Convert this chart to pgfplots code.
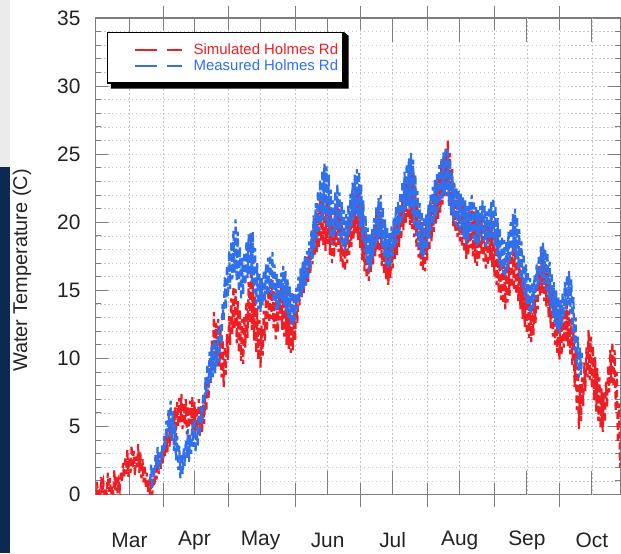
\documentclass[border=0pt]{standalone}
\usepackage{pgfplots}
\pgfplotsset{compat=1.18}
\usepackage{fontspec}
\setmainfont{Liberation Sans}
\definecolor{simred}{RGB}{238,30,36}
\definecolor{measblue}{RGB}{48,112,236}
\definecolor{navy}{RGB}{10,42,82}
\definecolor{stripgray}{RGB}{235,235,235}
\definecolor{framegray}{RGB}{125,125,125}
\definecolor{labelgray}{RGB}{35,35,35}
\definecolor{gridgray}{RGB}{200,200,200}

\begin{document}
\begin{tikzpicture}
% page background and side band
\fill[white] (0bp,0bp) rectangle (621bp,553bp);
\fill[stripgray] (0bp,386bp) rectangle (10bp,553bp);
\fill[navy] (0bp,0bp) rectangle (10bp,386bp);
\begin{axis}[
  at={(96bp,58bp)}, anchor=south west,
  scale only axis, width=525bp, height=477bp,
  xmin=0, xmax=242.2, ymin=0, ymax=35,
  axis line style={framegray, line width=1.1bp},
  every tick/.style={framegray, line width=1.0bp},
  xtick={31,61,92,122,153,184,214}, xticklabels={},
  xtick align=center,
  x tick style={/pgfplots/major tick length=24bp},
  extra x ticks={15.5,45.5,76,107,137,168,199,229},
  extra x tick labels={Mar,Apr,May,Jun,Jul,Aug,Sep,Oct},
  extra x tick style={/pgfplots/major tick length=6bp, tick align=inside, grid=major},
  ytick={0,5,...,35}, minor y tick num=4,
  ytick align=inside,
  y tick style={/pgfplots/major tick length=12bp, /pgfplots/minor tick length=5bp},
  xmajorgrids, ymajorgrids, yminorgrids,
  grid style={gridgray, line width=0.7bp, dash pattern=on 1.6bp off 2.4bp},
  /pgf/number format/assume math mode=true,
  ticklabel style={font=\fontsize{21}{25}\selectfont, text=labelgray},
  xticklabel style={anchor=center, yshift=-46bp},
  yticklabel style={anchor=east, xshift=-12bp},
  ylabel={Water Temperature (C)},
  ylabel style={at={(axis description cs:-0.141,0.47)}, anchor=center, rotate=0,
    font=\fontsize{20}{24}\selectfont, text=labelgray},
  legend style={name=keybox, at={(axis description cs:0.021,0.971)}, anchor=north west,
    draw=black, line width=1.3bp, fill=white,
    font=\fontsize{15}{17}\selectfont, inner xsep=3bp, inner ysep=9bp,
    row sep=0bp, nodes={inner sep=2bp},
    /tikz/every odd column/.append style={column sep=9bp}},
  legend cell align=left,
  legend image code/.code={\path (0bp,0bp);
    \draw[#1, solid] (23bp,0bp) -- (45bp,0bp);
    \draw[#1, solid] (55bp,0bp) -- (70bp,0bp);},
  clip=true,
]
% simulated water temperature, two readings per day (night low, afternoon high)
\addplot[simred, line width=2.2bp, dash pattern=on 7bp off 4bp] coordinates {
(0,0.0)(0.5,0.9)(1,0.0)(1.5,0.5)(2,0.0)(2.5,1.3)(3,0.1)(3.5,0.8)(4,0.0)(4.5,0.4)
(5,0.0)(5.5,1.6)(6,0.2)(6.5,1.2)(7,0.0)(7.5,0.6)(8,0.0)(8.5,1.8)(9,0.3)(9.5,1.4)
(10,0.1)(10.5,0.9)(11,0.4)(11.5,1.7)(12,0.9)(12.5,2.3)(13,1.2)(13.5,2.8)(14,1.5)(14.5,3.3)
(15,1.3)(15.5,2.7)(16,1.6)(16.5,3.6)(17,1.9)(17.5,3.2)(18,1.4)(18.5,2.8)(19,2.0)(19.5,3.7)
(20,1.6)(20.5,3.1)(21,1.2)(21.5,2.6)(22,0.9)(22.5,2.2)(23,0.5)(23.5,1.6)(24,0.2)(24.5,1.1)
(25,0.0)(25.5,0.7)(26,0.0)(26.5,0.9)(27,0.6)(27.5,1.9)(28,1.1)(28.5,2.5)(29,1.5)(29.5,3.0)
(30,1.9)(30.5,3.3)(31,2.3)(31.5,3.8)(32,2.8)(32.5,4.3)(33,3.1)(33.5,4.9)(34,3.5)(34.5,5.6)
(35,3.9)(35.5,6.1)(36,4.6)(36.5,6.4)(37,4.2)(37.5,6.8)(38,5.0)(38.5,7.1)(39,5.3)(39.5,7.4)
(40,4.8)(40.5,6.7)(41,5.1)(41.5,7.0)(42,4.4)(42.5,6.5)(43,4.9)(43.5,6.9)(44,5.2)(44.5,7.2)
(45,4.7)(45.5,6.8)(46,4.5)(46.5,6.4)(47,4.9)(47.5,7.0)(48,4.3)(48.5,6.2)(49,4.6)(49.5,6.6)
(50,5.2)(50.5,7.5)(51,6.1)(51.5,8.6)(52,7.0)(52.5,9.8)(53,8.2)(53.5,11.3)(54,9.5)(54.5,13.4)
(55,9.8)(55.5,12.6)(56,10.3)(56.5,12.9)(57,9.4)(57.5,12.1)(58,8.6)(58.5,11.4)(59,7.9)(59.5,10.9)
(60,8.8)(60.5,11.8)(61,9.9)(61.5,13.1)(62,11.0)(62.5,14.4)(63,11.8)(63.5,15.3)(64,12.2)(64.5,15.1)
(65,11.1)(65.5,14.2)(66,10.4)(66.5,13.6)(67,9.8)(67.5,12.9)(68,9.6)(68.5,13.1)(69,10.8)(69.5,14.2)
(70,11.5)(70.5,15.6)(71,12.6)(71.5,16.2)(72,12.1)(72.5,15.8)(73,11.3)(73.5,14.6)(74,10.4)(74.5,13.7)
(75,9.9)(75.5,12.8)(76,9.3)(76.5,12.4)(77,10.2)(77.5,13.5)(78,11.3)(78.5,14.4)(79,12.0)(79.5,15.1)
(80,12.6)(80.5,15.4)(81,12.9)(81.5,15.8)(82,12.2)(82.5,15.0)(83,11.4)(83.5,14.3)(84,11.9)(84.5,14.9)
(85,12.8)(85.5,15.6)(86,12.1)(86.5,15.2)(87,11.6)(87.5,14.6)(88,11.0)(88.5,13.9)(89,10.7)(89.5,13.5)
(90,10.4)(90.5,13.2)(91,10.6)(91.5,13.7)(92,11.3)(92.5,14.4)(93,12.6)(93.5,15.3)(94,13.9)(94.5,16.2)
(95,14.5)(95.5,16.9)(96,14.8)(96.5,17.2)(97,15.3)(97.5,17.6)(98,15.6)(98.5,18.1)(99,16.2)(99.5,18.8)
(100,16.9)(100.5,19.8)(101,17.5)(101.5,20.6)(102,17.8)(102.5,21.1)(103,18.1)(103.5,21.6)(104,18.6)(104.5,22.1)
(105,18.3)(105.5,22.6)(106,17.9)(106.5,21.8)(107,18.4)(107.5,21.4)(108,17.6)(108.5,20.8)(109,17.0)(109.5,20.2)
(110,17.4)(110.5,20.9)(111,18.2)(111.5,21.6)(112,17.8)(112.5,21.0)(113,17.1)(113.5,20.4)(114,16.6)(114.5,19.7)
(115,16.4)(115.5,19.3)(116,17.0)(116.5,20.1)(117,17.6)(117.5,20.7)(118,18.2)(118.5,21.5)(119,18.8)(119.5,22.0)
(120,19.2)(120.5,22.6)(121,18.7)(121.5,22.2)(122,18.1)(122.5,21.3)(123,17.2)(123.5,20.4)(124,16.4)(124.5,19.5)
(125,15.9)(125.5,18.8)(126,15.7)(126.5,18.6)(127,16.3)(127.5,19.2)(128,16.9)(128.5,19.8)(129,17.5)(129.5,20.6)
(130,17.9)(130.5,21.1)(131,17.4)(131.5,20.8)(132,16.8)(132.5,19.9)(133,16.2)(133.5,19.1)(134,15.8)(134.5,18.6)
(135,15.4)(135.5,18.3)(136,15.9)(136.5,18.9)(137,16.6)(137.5,19.7)(138,17.3)(138.5,20.3)(139,17.6)(139.5,20.5)
(140,18.2)(140.5,21.0)(141,18.7)(141.5,21.8)(142,19.4)(142.5,22.6)(143,19.9)(143.5,23.3)(144,20.3)(144.5,23.8)
(145,19.8)(145.5,24.2)(146,19.5)(146.5,23.6)(147,18.9)(147.5,22.7)(148,18.1)(148.5,21.6)(149,17.4)(149.5,20.7)
(150,16.8)(150.5,20.0)(151,16.5)(151.5,19.6)(152,16.4)(152.5,19.9)(153,17.2)(153.5,20.7)(154,17.9)(154.5,21.4)
(155,18.6)(155.5,22.0)(156,19.3)(156.5,22.6)(157,19.8)(157.5,23.2)(158,20.2)(158.5,23.6)(159,20.7)(159.5,24.1)
(160,21.3)(160.5,24.8)(161,21.9)(161.5,25.4)(162,22.4)(162.5,26.0)(163,21.6)(163.5,25.1)(164,20.5)(164.5,23.9)
(165,19.7)(165.5,22.8)(166,19.3)(166.5,22.2)(167,18.9)(167.5,21.9)(168,18.6)(168.5,21.5)(169,18.2)(169.5,21.2)
(170,17.8)(170.5,20.9)(171,17.3)(171.5,20.5)(172,17.6)(172.5,20.9)(173,18.1)(173.5,21.4)(174,17.5)(174.5,20.8)
(175,17.0)(175.5,20.3)(176,16.8)(176.5,20.0)(177,17.2)(177.5,20.4)(178,17.7)(178.5,20.7)(179,17.1)(179.5,20.1)
(180,16.6)(180.5,19.7)(181,16.8)(181.5,20.1)(182,17.2)(182.5,20.6)(183,16.7)(183.5,20.2)(184,16.0)(184.5,19.4)
(185,15.4)(185.5,18.6)(186,14.8)(186.5,17.9)(187,14.3)(187.5,17.2)(188,14.0)(188.5,16.9)(189,13.6)(189.5,16.6)
(190,14.1)(190.5,17.1)(191,14.6)(191.5,17.6)(192,15.2)(192.5,18.3)(193,15.0)(193.5,18.5)(194,14.7)(194.5,18.0)
(195,14.2)(195.5,17.3)(196,13.6)(196.5,16.5)(197,12.9)(197.5,15.8)(198,12.3)(198.5,15.2)(199,11.8)(199.5,14.7)
(200,11.5)(200.5,14.1)(201,11.2)(201.5,13.8)(202,11.7)(202.5,14.6)(203,12.6)(203.5,15.6)(204,13.6)(204.5,16.8)
(205,14.6)(205.5,18.2)(206,14.8)(206.5,17.6)(207,14.2)(207.5,16.9)(208,13.8)(208.5,16.8)(209,13.0)(209.5,15.9)
(210,12.2)(210.5,15.2)(211,11.6)(211.5,14.5)(212,11.0)(212.5,13.9)(213,10.4)(213.5,13.3)(214,9.9)(214.5,12.8)
(215,10.2)(215.5,13.1)(216,10.8)(216.5,13.6)(217,11.2)(217.5,14.0)(218,10.9)(218.5,13.5)(219,10.3)(219.5,12.9)
(220,9.5)(220.5,12.1)(221,7.9)(221.5,10.8)(222,6.2)(222.5,9.4)(223,4.8)(223.5,8.1)(224,5.4)(224.5,8.6)
(225,6.5)(225.5,9.7)(226,7.6)(226.5,10.8)(227,8.6)(227.5,12.1)(228,8.4)(228.5,11.6)(229,7.8)(229.5,10.9)
(230,6.9)(230.5,10.1)(231,6.1)(231.5,9.3)(232,5.4)(232.5,8.6)(233,4.9)(233.5,7.8)(234,4.6)(234.5,7.5)
(235,5.3)(235.5,8.3)(236,6.4)(236.5,9.5)(237,7.5)(237.5,10.6)(238,8.2)(238.5,11.2)(239,7.9)(239.5,10.6)
(240,6.1)(240.5,9.0)(241,3.8)(241.5,6.7)(242,2.0)(242.5,4.5)
};
\addlegendentry{\textcolor{simred}{Simulated Holmes Rd}}
% measured water temperature, same sampling
\addplot[measblue, line width=2.2bp, dash pattern=on 7bp off 4bp] coordinates {
(25,1.0)(25.5,2.2)(26,0.4)(26.5,2.0)(27,1.3)(27.5,2.9)(28,2.0)(28.5,3.5)(29,1.8)(29.5,3.1)
(30,2.2)(30.5,3.6)(31,2.6)(31.5,4.3)(32,3.3)(32.5,5.4)(33,4.1)(33.5,6.2)(34,4.6)(34.5,6.9)
(35,4.0)(35.5,6.1)(36,3.2)(36.5,5.2)(37,2.5)(37.5,4.3)(38,1.8)(38.5,3.6)(39,1.2)(39.5,3.0)
(40,1.5)(40.5,3.4)(41,2.1)(41.5,4.0)(42,2.7)(42.5,4.8)(43,2.4)(43.5,4.4)(44,3.0)(44.5,5.2)
(45,3.5)(45.5,5.6)(46,3.1)(46.5,5.0)(47,3.6)(47.5,5.9)(48,4.3)(48.5,6.5)(49,5.2)(49.5,7.4)
(50,6.3)(50.5,8.6)(51,7.2)(51.5,9.6)(52,7.8)(52.5,10.5)(53,8.3)(53.5,11.0)(54,8.6)(54.5,11.4)
(55,8.9)(55.5,11.2)(56,9.4)(56.5,12.1)(57,9.8)(57.5,12.6)(58,11.0)(58.5,14.0)(59,12.8)(59.5,16.0)
(60,13.6)(60.5,16.8)(61,14.5)(61.5,17.9)(62,15.1)(62.5,18.6)(63,15.8)(63.5,19.4)(64,16.3)(64.5,20.2)
(65,15.7)(65.5,19.3)(66,14.9)(66.5,18.2)(67,14.3)(67.5,17.4)(68,14.7)(68.5,17.8)(69,15.4)(69.5,18.6)
(70,15.9)(70.5,19.1)(71,16.1)(71.5,19.2)(72,15.6)(72.5,19.3)(73,14.8)(73.5,18.1)(74,14.0)(74.5,17.0)
(75,13.6)(75.5,16.2)(76,13.4)(76.5,15.9)(77,13.9)(77.5,16.5)(78,14.2)(78.5,16.9)(79,14.6)(79.5,17.4)
(80,14.9)(80.5,17.6)(81,14.7)(81.5,17.8)(82,14.1)(82.5,16.9)(83,13.6)(83.5,16.2)(84,13.5)(84.5,15.9)
(85,13.9)(85.5,16.3)(86,14.2)(86.5,16.8)(87,13.8)(87.5,16.4)(88,13.3)(88.5,15.8)(89,12.9)(89.5,15.3)
(90,12.6)(90.5,14.9)(91,12.4)(91.5,14.8)(92,12.8)(92.5,15.2)(93,13.6)(93.5,16.0)(94,14.2)(94.5,16.6)
(95,14.6)(95.5,17.1)(96,15.1)(96.5,17.5)(97,15.4)(97.5,17.9)(98,15.8)(98.5,18.6)(99,16.5)(99.5,19.4)
(100,17.3)(100.5,20.5)(101,18.1)(101.5,21.4)(102,18.8)(102.5,22.3)(103,19.4)(103.5,23.1)(104,19.9)(104.5,23.8)
(105,20.3)(105.5,24.3)(106,20.1)(106.5,24.1)(107,19.6)(107.5,23.5)(108,19.0)(108.5,22.4)(109,18.4)(109.5,21.6)
(110,18.9)(110.5,22.3)(111,19.4)(111.5,22.8)(112,19.0)(112.5,22.2)(113,18.5)(113.5,21.5)(114,18.1)(114.5,20.9)
(115,17.9)(115.5,20.6)(116,18.4)(116.5,21.3)(117,19.1)(117.5,22.1)(118,19.7)(118.5,22.9)(119,20.2)(119.5,23.5)
(120,20.6)(120.5,23.9)(121,20.3)(121.5,23.7)(122,19.6)(122.5,22.8)(123,18.7)(123.5,21.6)(124,17.8)(124.5,20.5)
(125,17.0)(125.5,19.6)(126,16.4)(126.5,19.1)(127,16.7)(127.5,19.5)(128,17.4)(128.5,20.3)(129,18.1)(129.5,21.2)
(130,18.6)(130.5,21.8)(131,18.9)(131.5,22.0)(132,18.2)(132.5,21.1)(133,17.5)(133.5,20.2)(134,16.9)(134.5,19.6)
(135,16.5)(135.5,19.2)(136,16.9)(136.5,19.7)(137,17.5)(137.5,20.4)(138,18.2)(138.5,21.1)(139,18.5)(139.5,21.5)
(140,19.1)(140.5,22.2)(141,19.8)(141.5,23.0)(142,20.4)(142.5,23.7)(143,20.9)(143.5,24.3)(144,21.2)(144.5,24.7)
(145,21.0)(145.5,25.1)(146,20.6)(146.5,24.6)(147,19.8)(147.5,23.5)(148,19.0)(148.5,22.3)(149,18.2)(149.5,21.4)
(150,17.7)(150.5,20.8)(151,17.4)(151.5,20.4)(152,17.6)(152.5,20.6)(153,18.1)(153.5,21.3)(154,18.8)(154.5,22.0)
(155,19.4)(155.5,22.6)(156,19.9)(156.5,23.1)(157,20.4)(157.5,23.6)(158,20.9)(158.5,24.2)(159,21.4)(159.5,24.7)
(160,21.8)(160.5,25.2)(161,22.1)(161.5,25.5)(162,21.9)(162.5,25.3)(163,21.2)(163.5,24.6)(164,20.6)(164.5,23.7)
(165,20.1)(165.5,22.9)(166,19.8)(166.5,22.5)(167,19.6)(167.5,22.3)(168,19.4)(168.5,22.1)(169,19.1)(169.5,21.9)
(170,18.8)(170.5,21.6)(171,18.4)(171.5,21.2)(172,18.7)(172.5,21.5)(173,19.2)(173.5,22.0)(174,18.8)(174.5,21.6)
(175,18.4)(175.5,21.1)(176,18.2)(176.5,20.9)(177,18.5)(177.5,21.2)(178,18.9)(178.5,21.6)(179,18.6)(179.5,21.2)
(180,18.2)(180.5,20.8)(181,18.4)(181.5,21.1)(182,18.8)(182.5,21.5)(183,18.9)(183.5,21.8)(184,18.3)(184.5,21.2)
(185,17.6)(185.5,20.3)(186,17.0)(186.5,19.6)(187,16.5)(187.5,19.0)(188,16.2)(188.5,18.7)(189,16.0)(189.5,18.6)
(190,16.5)(190.5,19.3)(191,17.1)(191.5,20.0)(192,17.6)(192.5,20.6)(193,17.8)(193.5,21.0)(194,17.3)(194.5,20.4)
(195,16.6)(195.5,19.5)(196,15.8)(196.5,18.6)(197,15.1)(197.5,17.7)(198,14.4)(198.5,16.9)(199,13.9)(199.5,16.4)
(200,13.5)(200.5,15.9)(201,13.2)(201.5,15.5)(202,13.6)(202.5,16.1)(203,14.3)(203.5,16.9)(204,15.1)(204.5,17.6)
(205,15.6)(205.5,18.2)(206,15.9)(206.5,18.5)(207,15.4)(207.5,18.0)(208,15.0)(208.5,17.8)(209,14.4)(209.5,17.1)
(210,13.7)(210.5,16.3)(211,13.0)(211.5,15.6)(212,12.5)(212.5,15.0)(213,12.1)(213.5,14.5)(214,11.8)(214.5,14.3)
(215,12.3)(215.5,14.8)(216,13.0)(216.5,15.6)(217,13.6)(217.5,16.1)(218,13.9)(218.5,16.4)(219,13.3)(219.5,15.8)
(220,11.9)(220.5,14.5)(221,10.6)(221.5,13.0)(222,9.4)(222.5,11.6)(223,8.6)(223.5,10.8)(224,8.8)(224.5,10.4)
};
\addlegendentry{\textcolor{measblue}{Measured Holmes Rd}}
\end{axis}
% black drop shadow along the bottom and right of the key box
\fill[black] ([xshift=4bp]keybox.south west) -- ([xshift=4bp,yshift=-5bp]keybox.south west)
  -- ([xshift=5bp,yshift=-5bp]keybox.south east) -- ([xshift=5bp,yshift=-4bp]keybox.north east)
  -- (keybox.north east) -- (keybox.south east) -- cycle;
\useasboundingbox (0bp,0bp) rectangle (621bp,553bp);
\end{tikzpicture}
\end{document}
